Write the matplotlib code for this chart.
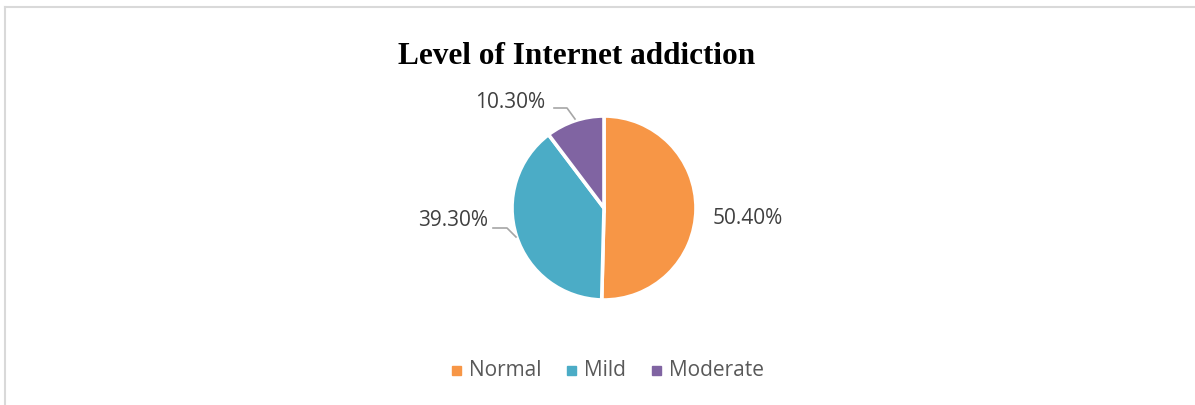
import matplotlib
matplotlib.use("Agg")
import matplotlib.pyplot as plt
from matplotlib.patches import Rectangle

categories = ["Normal", "Mild", "Moderate"]
values = [50.4, 39.3, 10.3]
labels = ["50.40%", "39.30%", "10.30%"]
colors = ["#F79646", "#4BACC6", "#8064A2"]

W, H = 1195, 405
fig = plt.figure(figsize=(W / 100, H / 100), dpi=100)

# border (top and left only visible)
fig.add_artist(plt.Line2D([5 / W, 5 / W], [-0.01, 1 - 7 / H], transform=fig.transFigure,
                          color="#D9D9D9", lw=1.5))
fig.add_artist(plt.Line2D([5 / W, 1.01], [1 - 7 / H, 1 - 7 / H], transform=fig.transFigure,
                          color="#D9D9D9", lw=1.5))

cx, cy, r = 604, 208, 92
half = 100
ax = fig.add_axes([(cx - half) / W, (H - cy - half) / H, 2 * half / W, 2 * half / H])

wedges, _ = ax.pie(values, colors=colors, startangle=90, counterclock=False,
                   radius=1.0, wedgeprops=dict(edgecolor="white", linewidth=2.6))
ax.set_xlim(-half / r, half / r)
ax.set_ylim(-half / r, half / r)
ax.set_aspect("equal")
ax.axis("off")

def px(x, y):
    return ((x - cx) / r, (cy - y) / r)

lab_pos = [(748, 218), (453, 220), (510, 102)]
for lab, (x, y) in zip(labels, lab_pos):
    ax.text(*px(x, y), lab, ha="center", va="center", fontsize=15,
            family="Open Sans", color="#404040", clip_on=False)

# leader lines
for pts in ([(554, 108), (567, 108), (575, 119)], [(493, 228), (507, 228), (516, 237)]):
    xs, ys = zip(*[px(*p) for p in pts])
    ax.plot(xs, ys, color="#A6A6A6", lw=1.2, clip_on=False)

fig.text(577 / W, 1 - 57 / H, "Level of Internet addiction", ha="center", va="center",
         fontsize=22.5, fontweight="bold", family="Liberation Serif", color="black")

# legend
leg_items = [(456, "Normal"), (571, "Mild"), (656, "Moderate")]
for (x, name), c in zip(leg_items, colors):
    fig.add_artist(Rectangle(((x - 4.5) / W, 1 - (370 + 4.5) / H), 9 / W, 9 / H,
                             transform=fig.transFigure, color=c))
    fig.text((x + 13) / W, 1 - 370 / H, name, ha="left", va="center", fontsize=15,
             family="Open Sans", color="#595959")

fig.savefig("out.png", dpi=100)
